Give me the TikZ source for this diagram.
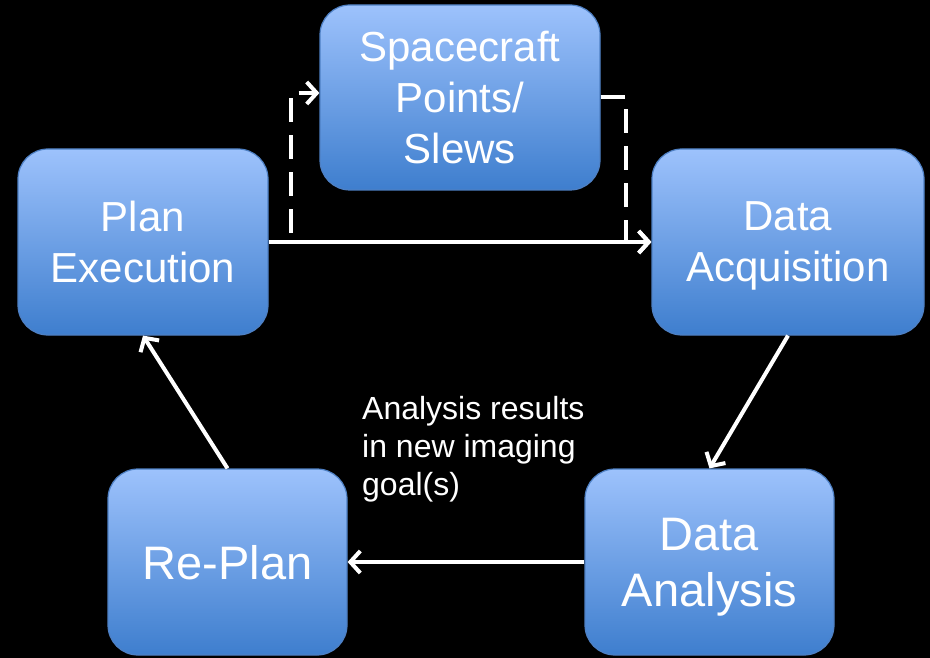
\documentclass[tikz,border=0pt]{standalone}
\usepackage{fontspec}
\setmainfont{Liberation Sans}
\usetikzlibrary{arrows.meta}
\definecolor{boxtop}{RGB}{157,194,252}
\definecolor{boxbot}{RGB}{62,126,206}
\definecolor{boxline}{RGB}{78,128,196}
\tikzset{
  stepbox/.style={draw=boxline, line width=1.2pt, rounded corners=30pt,
    top color=boxtop, bottom color=boxbot, text=white, align=center,
    inner sep=0pt, text depth=0pt},
  smallfont/.style={font=\fontsize{42}{51}\selectfont},
  bigfont/.style={font=\fontsize{47}{56}\selectfont},
  flow/.style={draw=white, line width=4pt, -{Straight Barb[length=10pt,width=22pt]}},
  dflow/.style={flow, dash pattern=on 24pt off 13pt}
}
\begin{document}
\begin{tikzpicture}[x=1pt,y=-1pt]
\fill[black] (0,0) rectangle (930,658);
\useasboundingbox (0,0) rectangle (930,658);
\node[stepbox, smallfont, minimum width=280pt, minimum height=185pt] (sc) at (460,97.5) {Spacecraft\\Points/\\Slews};
\node[stepbox, smallfont, minimum width=250pt, minimum height=186pt] (pe) at (143,242) {Plan\\Execution};
\node[stepbox, smallfont, minimum width=272pt, minimum height=186pt] (da) at (788,242) {Data\\Acquisition};
\node[stepbox, bigfont, minimum width=239pt, minimum height=186pt] (rp) at (227.5,562) {Re-Plan};
\node[stepbox, bigfont, minimum width=249pt, minimum height=186pt] (dn) at (709.5,562) {Data\\Analysis};
\node[anchor=base west, align=left, text=white, font=\fontsize{32}{38}\selectfont, inner sep=0pt] (lbl) at (362,495) {Analysis results\\in new imaging\\goal(s)};
\draw[flow] (pe.east) -- (da.west);
\draw[dflow] ([xshift=22pt,yshift=9pt]pe.east) |- ([yshift=4.5pt]sc.west);
\draw[dflow] (sc.east) -- ++(25,0) |- (da.west);
\draw[flow] (da.south) -- (dn.north);
\draw[flow] (dn.west) -- (rp.east);
\draw[flow] (rp.north) -- (pe.south);
\end{tikzpicture}
\end{document}
